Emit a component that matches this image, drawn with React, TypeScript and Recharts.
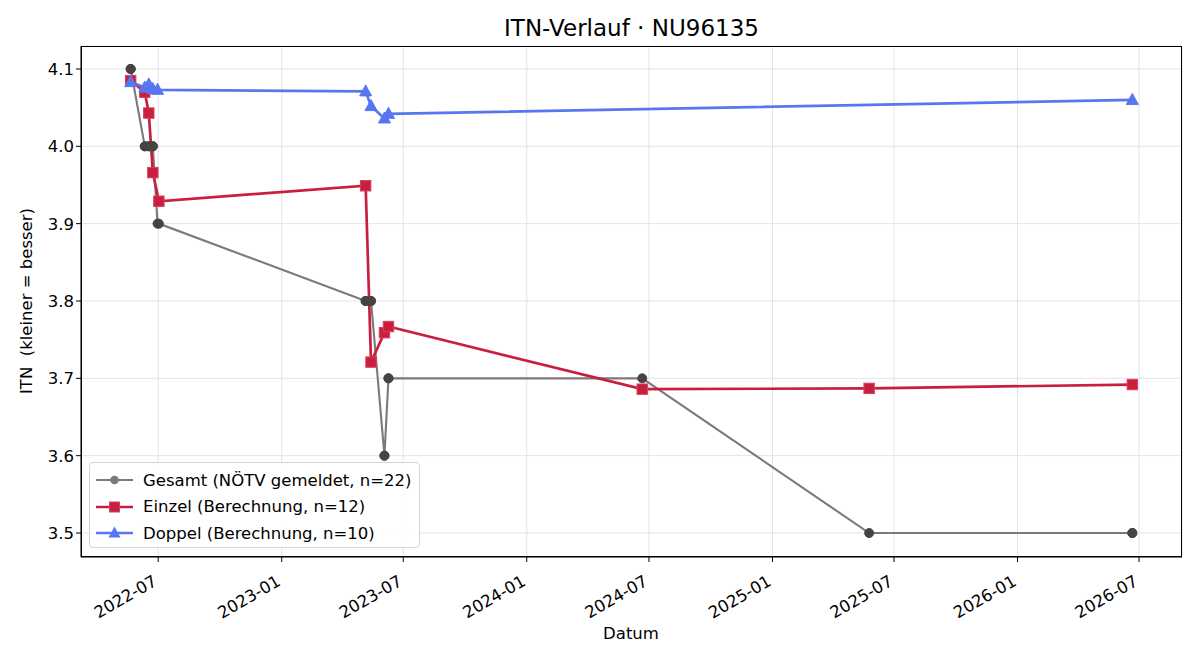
import { CartesianGrid, Line, LineChart, XAxis, YAxis } from "recharts";

const FONT = "'DejaVu Sans', sans-serif";
const FS = 16.5;

// Gesamt: reported NÖTV rating at every match date (singles + doubles)
const gesamtDates = [
  "2022-05-21", "2022-05-21", "2022-06-11", "2022-06-11", "2022-06-17", "2022-06-17",
  "2022-06-23", "2022-06-23", "2022-06-30", "2022-07-02", "2023-05-06", "2023-05-06",
  "2023-05-14", "2023-05-14", "2023-06-03", "2023-06-03", "2023-06-09", "2023-06-09",
  "2024-06-21", "2025-05-25", "2026-06-21", "2026-06-21",
];
const gesamtItn = [
  4.1, 4.1, 4.0, 4.0, 4.0, 4.0, 4.0, 4.0, 3.9, 3.9, 3.8, 3.8,
  3.8, 3.8, 3.6, 3.6, 3.7, 3.7, 3.7, 3.5, 3.5, 3.5,
];

// Einzel: calculated singles rating
const einzelDates = [
  "2022-05-21", "2022-06-11", "2022-06-17", "2022-06-23", "2022-07-02", "2023-05-06",
  "2023-05-14", "2023-06-03", "2023-06-09", "2024-06-21", "2025-05-25", "2026-06-21",
];
const einzelItn = [4.085, 4.07, 4.043, 3.966, 3.929, 3.949, 3.721, 3.759, 3.767, 3.686, 3.687, 3.692];

// Doppel: calculated doubles rating
const doppelDates = [
  "2022-05-21", "2022-06-11", "2022-06-17", "2022-06-23", "2022-06-30",
  "2023-05-06", "2023-05-14", "2023-06-03", "2023-06-09", "2026-06-21",
];
const doppelItn = [4.083, 4.076, 4.08, 4.074, 4.073, 4.071, 4.052, 4.036, 4.042, 4.06];

const xTickDates = [
  "2022-07-01", "2023-01-01", "2023-07-01", "2024-01-01", "2024-07-01",
  "2025-01-01", "2025-07-01", "2026-01-01", "2026-07-01",
];
const yTicks = [3.5, 3.6, 3.7, 3.8, 3.9, 4.0, 4.1];

const ts = (s: string) => Date.parse(s + "T00:00:00Z");
const toPoints = (dates: string[], vals: number[]) => dates.map((d, i) => ({ t: ts(d), itn: vals[i] }));

const gesamt = toPoints(gesamtDates, gesamtItn);
const einzel = toPoints(einzelDates, einzelItn);
const doppel = toPoints(doppelDates, doppelItn);

const COL_GESAMT_LINE = "#7a7a7a";
const COL_GESAMT_DOT = "#444444";
const COL_EINZEL = "#c91f3f";
const COL_DOPPEL = "#5876f2";

const square = (p: any) => (
  <rect key={`sq-${p.index}`} x={p.cx - 5.2} y={p.cy - 5.2} width={10.4} height={10.4}
    fill={COL_EINZEL} stroke="#d8405c" strokeWidth={1} />
);

const triangle = (p: any) => (
  <path key={`tr-${p.index}`}
    d={`M${p.cx},${p.cy - 6.5} L${p.cx + 6},${p.cy + 4.5} L${p.cx - 6},${p.cy + 4.5} Z`}
    fill={COL_DOPPEL} stroke={COL_DOPPEL} strokeWidth={1} />
);

const DateTick = ({ x, y, payload }: any) => {
  const d = new Date(payload.value);
  const label = `${d.getUTCFullYear()}-${String(d.getUTCMonth() + 1).padStart(2, "0")}`;
  const ax = x - 6;
  const ay = y + 10;
  return (
    <text x={ax} y={ay} transform={`rotate(-30 ${ax} ${ay})`} textAnchor="end"
      dominantBaseline="hanging" fontFamily={FONT} fontSize={FS} fill="#000">
      {label}
    </text>
  );
};

const legendItems = [
  { label: "Gesamt (NÖTV gemeldet, n=22)", kind: "circle" },
  { label: "Einzel (Berechnung, n=12)", kind: "square" },
  { label: "Doppel (Berechnung, n=10)", kind: "triangle" },
];

const LegendIcon = ({ kind }: { kind: string }) => {
  if (kind === "circle")
    return (
      <svg width={37} height={14}>
        <line x1={0} y1={7} x2={37} y2={7} stroke={COL_GESAMT_LINE} strokeWidth={2} />
        <circle cx={18.5} cy={7} r={4.3} fill={COL_GESAMT_LINE} />
      </svg>
    );
  if (kind === "square")
    return (
      <svg width={37} height={14}>
        <line x1={0} y1={7} x2={37} y2={7} stroke={COL_EINZEL} strokeWidth={2.6} />
        <rect x={13.5} y={2} width={10} height={10} fill={COL_EINZEL} stroke="#d8405c" />
      </svg>
    );
  return (
    <svg width={37} height={14}>
      <line x1={0} y1={7} x2={37} y2={7} stroke={COL_DOPPEL} strokeWidth={2.6} />
      <path d="M18.5,0.5 L24.5,11.5 L12.5,11.5 Z" fill={COL_DOPPEL} />
    </svg>
  );
};

export default function App() {
  return (
    <div style={{ position: "absolute", left: 0, top: 0, width: 1200, height: 660, background: "#fff", fontFamily: FONT }}>
      <div style={{ position: "absolute", left: 0, top: 14, width: 1263, textAlign: "center", fontSize: 23, lineHeight: "28px", color: "#000" }}>
        ITN-Verlauf · NU96135
      </div>

      <LineChart width={1200} height={660} margin={{ top: 46, right: 18, bottom: 0, left: 0 }}>
        <CartesianGrid stroke="#e4e4e4" strokeWidth={1} />
        <XAxis
          dataKey="t"
          type="number"
          domain={[ts("2022-03-08"), ts("2026-09-03")]}
          allowDataOverflow
          ticks={xTickDates.map(ts)}
          tick={<DateTick />}
          tickSize={5}
          height={103}
          axisLine={{ stroke: "#000" }}
          tickLine={{ stroke: "#000" }}
        />
        <YAxis
          dataKey="itn"
          type="number"
          domain={[3.469, 4.1297]}
          allowDataOverflow
          ticks={yTicks}
          tickFormatter={(v: number) => v.toFixed(1)}
          tick={{ fontFamily: FONT, fontSize: FS, fill: "#000" }}
          tickSize={5}
          width={81}
          axisLine={{ stroke: "#000" }}
          tickLine={{ stroke: "#000" }}
        />
        <Line data={gesamt} dataKey="itn" stroke={COL_GESAMT_LINE} strokeWidth={2.1}
          dot={{ r: 4.5, fill: COL_GESAMT_DOT, stroke: COL_GESAMT_DOT, strokeWidth: 1 }}
          activeDot={false} isAnimationActive={false} />
        <Line data={einzel} dataKey="itn" stroke={COL_EINZEL} strokeWidth={2.7}
          dot={square} activeDot={false} isAnimationActive={false} />
        <Line data={doppel} dataKey="itn" stroke={COL_DOPPEL} strokeWidth={2.7}
          dot={triangle} activeDot={false} isAnimationActive={false} />
      </LineChart>

      {/* plot frame */}
      <div style={{ position: "absolute", left: 81, top: 46, width: 1101, height: 511, border: "1px solid #000", boxSizing: "border-box", pointerEvents: "none" }} />

      <div style={{ position: "absolute", left: 26, top: 301, transform: "translate(-50%, -50%) rotate(-90deg)", fontSize: FS, whiteSpace: "pre", color: "#000" }}>
        ITN  (kleiner = besser)
      </div>
      <div style={{ position: "absolute", left: 631, top: 633, transform: "translate(-50%, -50%)", fontSize: FS, color: "#000" }}>
        Datum
      </div>

      <div style={{ position: "absolute", left: 89, top: 462, width: 331, height: 86, boxSizing: "border-box", border: "1px solid #d4d4d4", borderRadius: 4, background: "rgba(255,255,255,0.85)", padding: "4px 0 0 6px" }}>
        {legendItems.map((it) => (
          <div key={it.label} style={{ display: "flex", alignItems: "center", height: 26.5, fontSize: FS, color: "#000" }}>
            <LegendIcon kind={it.kind} />
            <span style={{ marginLeft: 10 }}>{it.label}</span>
          </div>
        ))}
      </div>
    </div>
  );
}
